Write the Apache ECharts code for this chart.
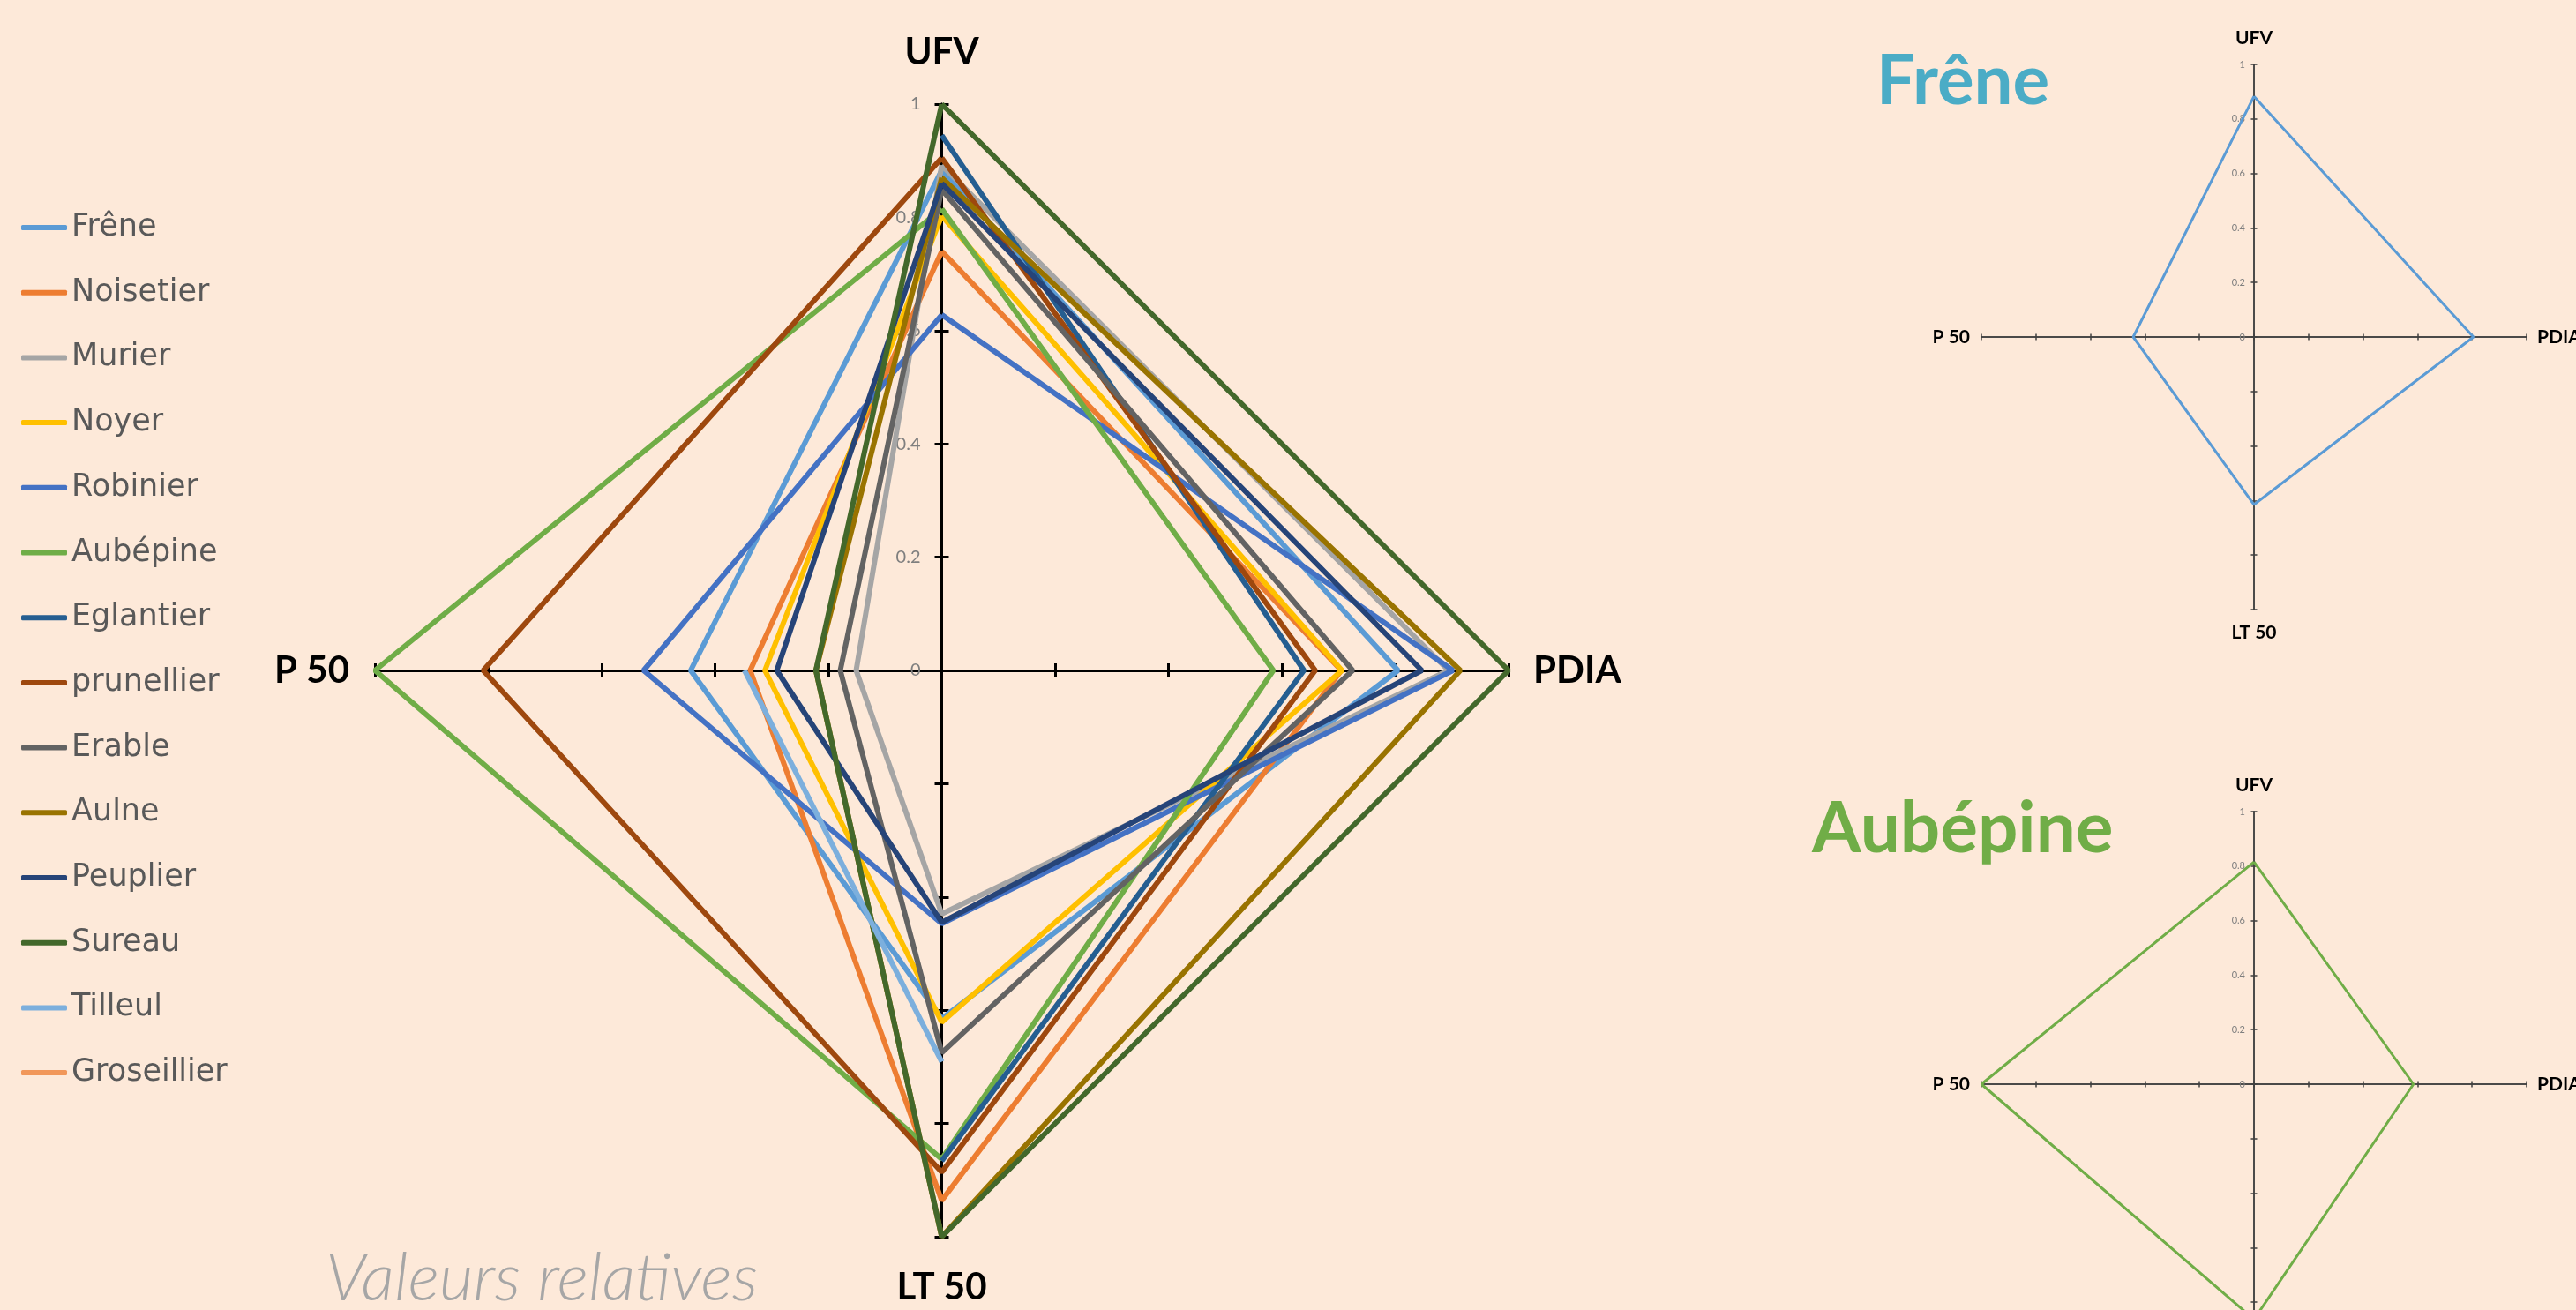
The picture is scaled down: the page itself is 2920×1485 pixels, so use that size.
<!DOCTYPE html>
<html><head><meta charset="utf-8">
<script src="https://cdn.jsdelivr.net/npm/echarts@6/dist/echarts.min.js"></script>
<style>html,body{margin:0;padding:0;background:#FDE9D9;} #c{width:2920px;height:1485px;}</style>
</head><body><div id="c"></div>
<script>
// ---- data ----
const indicators = ['UFV', 'PDIA', 'LT 50', 'P 50'];
const species = ['Frêne','Noisetier','Murier','Noyer','Robinier','Aubépine','Eglantier','prunellier','Erable','Aulne','Peuplier','Sureau','Tilleul','Groseillier'];
const colors = ['#5B9BD5','#ED7D31','#A5A5A5','#FFC000','#4472C4','#70AD47','#255E91','#9E480E','#636363','#997300','#264478','#43682B','#7CAFDD','#F1975A'];
const ufv  = [0.883, 0.740, 0.892, 0.803, 0.628, 0.815, 0.945, 0.905, 0.849, 0.870, 0.860, 1.000, null, null];
const pdia = [0.805, 0.705, 0.894, 0.706, 0.902, 0.585, 0.639, 0.659, 0.725, 0.915, 0.847, 1.000, null, null];
const lt50 = [0.615, 0.936, 0.430, 0.621, 0.447, 0.863, 0.866, 0.886, 0.675, 1.000, 0.445, 1.000, 0.691, null];
const p50  = [0.443, 0.338, 0.151, 0.312, 0.526, 1.000, null, 0.809, 0.179, 0.222, 0.291, 0.222, 0.348, null];
const tickLabels = ['0', '0.2', '0.4', '0.6', '0.8', '1'];
const detailSpecies = ['Frêne', 'Aubépine'];
const detailColors = ['#4BACC6', '#70AD47'];

// ---- build ----
function poly(i) {
  const pt = (dx, dy, v) => (v == null ? ['-', '-'] : [dx * v, dy * v]);
  return [pt(0, 1, ufv[i]), pt(1, 0, pdia[i]), pt(0, -1, lt50[i]), pt(-1, 0, p50[i]), pt(0, 1, ufv[i])];
}
function fmt(v) {
  if (v < -1e-9) return '';
  const k = Math.round(v * 5);
  return tickLabels[k] !== undefined ? tickLabels[k] : '';
}
const grids = [
  { left: 425, top: 118, width: 1285, height: 1284, outerBoundsMode: 'none', containLabel: false },
  { left: 2246, top: 73, width: 618, height: 618, outerBoundsMode: 'none', containLabel: false },
  { left: 2246, top: 920, width: 618, height: 618, outerBoundsMode: 'none', containLabel: false }
];
const xAxes = [], yAxes = [];
function addAxes(gi, big) {
  const g = grids[gi];
  const col = big ? '#000' : '#404040';
  const lw = big ? 3 : 1.5;
  const tl = big ? 8 : 3.5;
  const nameStyle = { fontFamily: 'Lato', fontWeight: 'bold', fontSize: big ? 42 : 21, color: '#000' };
  const base = {
    gridIndex: gi, type: 'value', min: -1, max: 1, interval: 0.2,
    axisLine: { onZero: false, lineStyle: { color: col, width: lw } },
    axisTick: { show: true, length: tl, lineStyle: { color: col, width: lw } },
    splitLine: { show: false }, nameTextStyle: nameStyle, nameMoveOverlap: false
  };
  xAxes.push(Object.assign({}, base, { position: 'bottom', offset: -g.height / 2, axisLabel: { show: false },
    name: indicators[1], nameLocation: 'end', nameGap: big ? 28 : 12 }));
  xAxes.push(Object.assign({}, base, { position: 'top', offset: -g.height / 2, axisLabel: { show: false },
    name: indicators[3], nameLocation: 'start', nameGap: big ? 29 : 13 }));
  yAxes.push(Object.assign({}, base, { position: 'left', offset: -g.width / 2,
    axisLabel: { show: true, formatter: fmt, color: '#7F7F7F', fontFamily: 'Lato', fontSize: big ? 20 : 11, margin: big ? 24 : 10 },
    name: indicators[0], nameLocation: 'end', nameGap: big ? 38 : 19 }));
  yAxes.push(Object.assign({}, base, { position: 'right', offset: -g.width / 2, axisLabel: { show: false },
    name: indicators[2], nameLocation: 'start', nameGap: big ? 36 : 16 }));
}
addAxes(0, true);
addAxes(1, false);
addAxes(2, false);

const series = [];
species.forEach((s, i) => {
  series.push({
    type: 'line', name: s, xAxisIndex: 0, yAxisIndex: 0, data: poly(i),
    symbol: 'none', color: colors[i], lineStyle: { width: 6, color: colors[i] },
    itemStyle: { color: colors[i] }, clip: false, animation: false, silent: true
  });
});
detailSpecies.forEach((s, k) => {
  const i = species.indexOf(s);
  series.push({
    type: 'line', name: s + ' (détail)', xAxisIndex: 2 * (k + 1), yAxisIndex: 2 * (k + 1), data: poly(i),
    symbol: 'none', color: colors[i], lineStyle: { width: 3, color: colors[i] },
    clip: false, animation: false, silent: true
  });
});

const chart = echarts.init(document.getElementById('c'));
chart.setOption({
  backgroundColor: '#FDE9D9',
  animation: false,
  grid: grids,
  xAxis: xAxes,
  yAxis: yAxes,
  legend: {
    orient: 'vertical', left: 19, top: 233, itemWidth: 52, itemHeight: 6, itemGap: 33.7,
    icon: 'roundRect',
    data: species, selectedMode: false,
    textStyle: { fontFamily: 'DejaVu Sans', fontSize: 35, color: '#595959', lineHeight: 40 }
  },
  graphic: [
    { type: 'text', x: 369, y: 1450, style: { text: 'Valeurs relatives', fill: '#A6A6A6', fontFamily: 'Lato', fontStyle: 'italic', fontWeight: 300, fontSize: 75, align: 'left', verticalAlign: 'middle' } },
    { type: 'text', x: 2127, y: 93, style: { text: detailSpecies[0], fill: detailColors[0], fontFamily: 'Lato', fontWeight: 'bold', fontSize: 78, align: 'left', verticalAlign: 'middle' } },
    { type: 'text', x: 2054, y: 940, style: { text: detailSpecies[1], fill: detailColors[1], fontFamily: 'Lato', fontWeight: 'bold', fontSize: 80, align: 'left', verticalAlign: 'middle' } }
  ],
  series: series
});
</script></body></html>
